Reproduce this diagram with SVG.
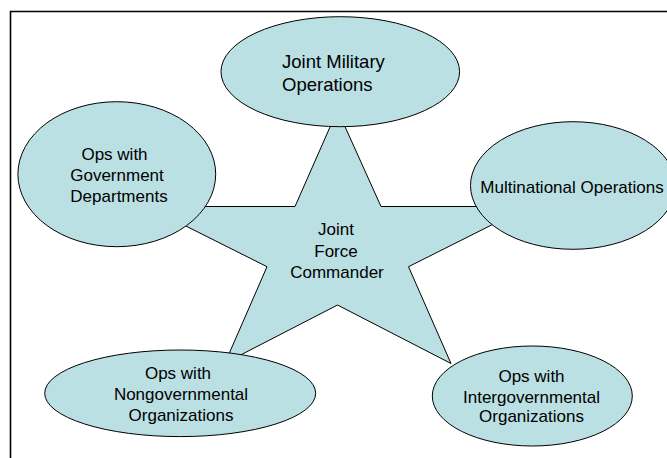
<svg xmlns="http://www.w3.org/2000/svg" width="667" height="458" viewBox="0 0 667 458">
<style>
.shape{fill:#BBE0E3;stroke:#000;stroke-width:1}
.t{font-family:"Liberation Sans",Arial,sans-serif;font-size:17px;fill:#000;text-anchor:middle}
.tb{font-size:18.5px;text-anchor:start}
</style>
<rect width="667" height="458" fill="#fff"/>
<path d="M10.5,458 V11.5 H667" fill="none" stroke="#000" stroke-width="1.6"/>
<g id="connectors"/>
<g id="star">
<polygon class="shape" points="337.5,110 381,206.5 528.5,206.5 408.5,266.7 451,363.5 337.5,305 225,363 267,266.7 147,206.5 295,206.5"/>
<text class="t" x="336" y="235">Joint</text>
<text class="t" x="336" y="256.7">Force</text>
<text class="t" x="337" y="277.7">Commander</text>
</g>
<g id="joint-military">
<ellipse class="shape" cx="340.3" cy="71.7" rx="119.3" ry="55"/>
<text class="t tb" x="282" y="68.3">Joint Military</text>
<text class="t tb" x="282" y="90.7">Operations</text>
</g>
<g id="government">
<ellipse class="shape" cx="116.8" cy="174.2" rx="98.9" ry="72.5"/>
<text class="t" x="114.5" y="160">Ops with</text>
<text class="t" x="117" y="181">Government</text>
<text class="t" x="119" y="201.7">Departments</text>
</g>
<g id="multinational">
<ellipse class="shape" cx="573" cy="185.5" rx="102.5" ry="63.8"/>
<text class="t" x="572" y="192.7">Multinational Operations</text>
</g>
<g id="nongovernmental">
<ellipse class="shape" cx="180.2" cy="393.3" rx="135.5" ry="43.3"/>
<text class="t" x="178" y="379.3">Ops with</text>
<text class="t" x="181" y="400">Nongovernmental</text>
<text class="t" x="181" y="420.7">Organizations</text>
</g>
<g id="intergovernmental">
<ellipse class="shape" cx="532.3" cy="396" rx="100" ry="50"/>
<text class="t" x="531.5" y="381.7">Ops with</text>
<text class="t" x="531.5" y="402.7">Intergovernmental</text>
<text class="t" x="531.5" y="422">Organizations</text>
</g>
</svg>
